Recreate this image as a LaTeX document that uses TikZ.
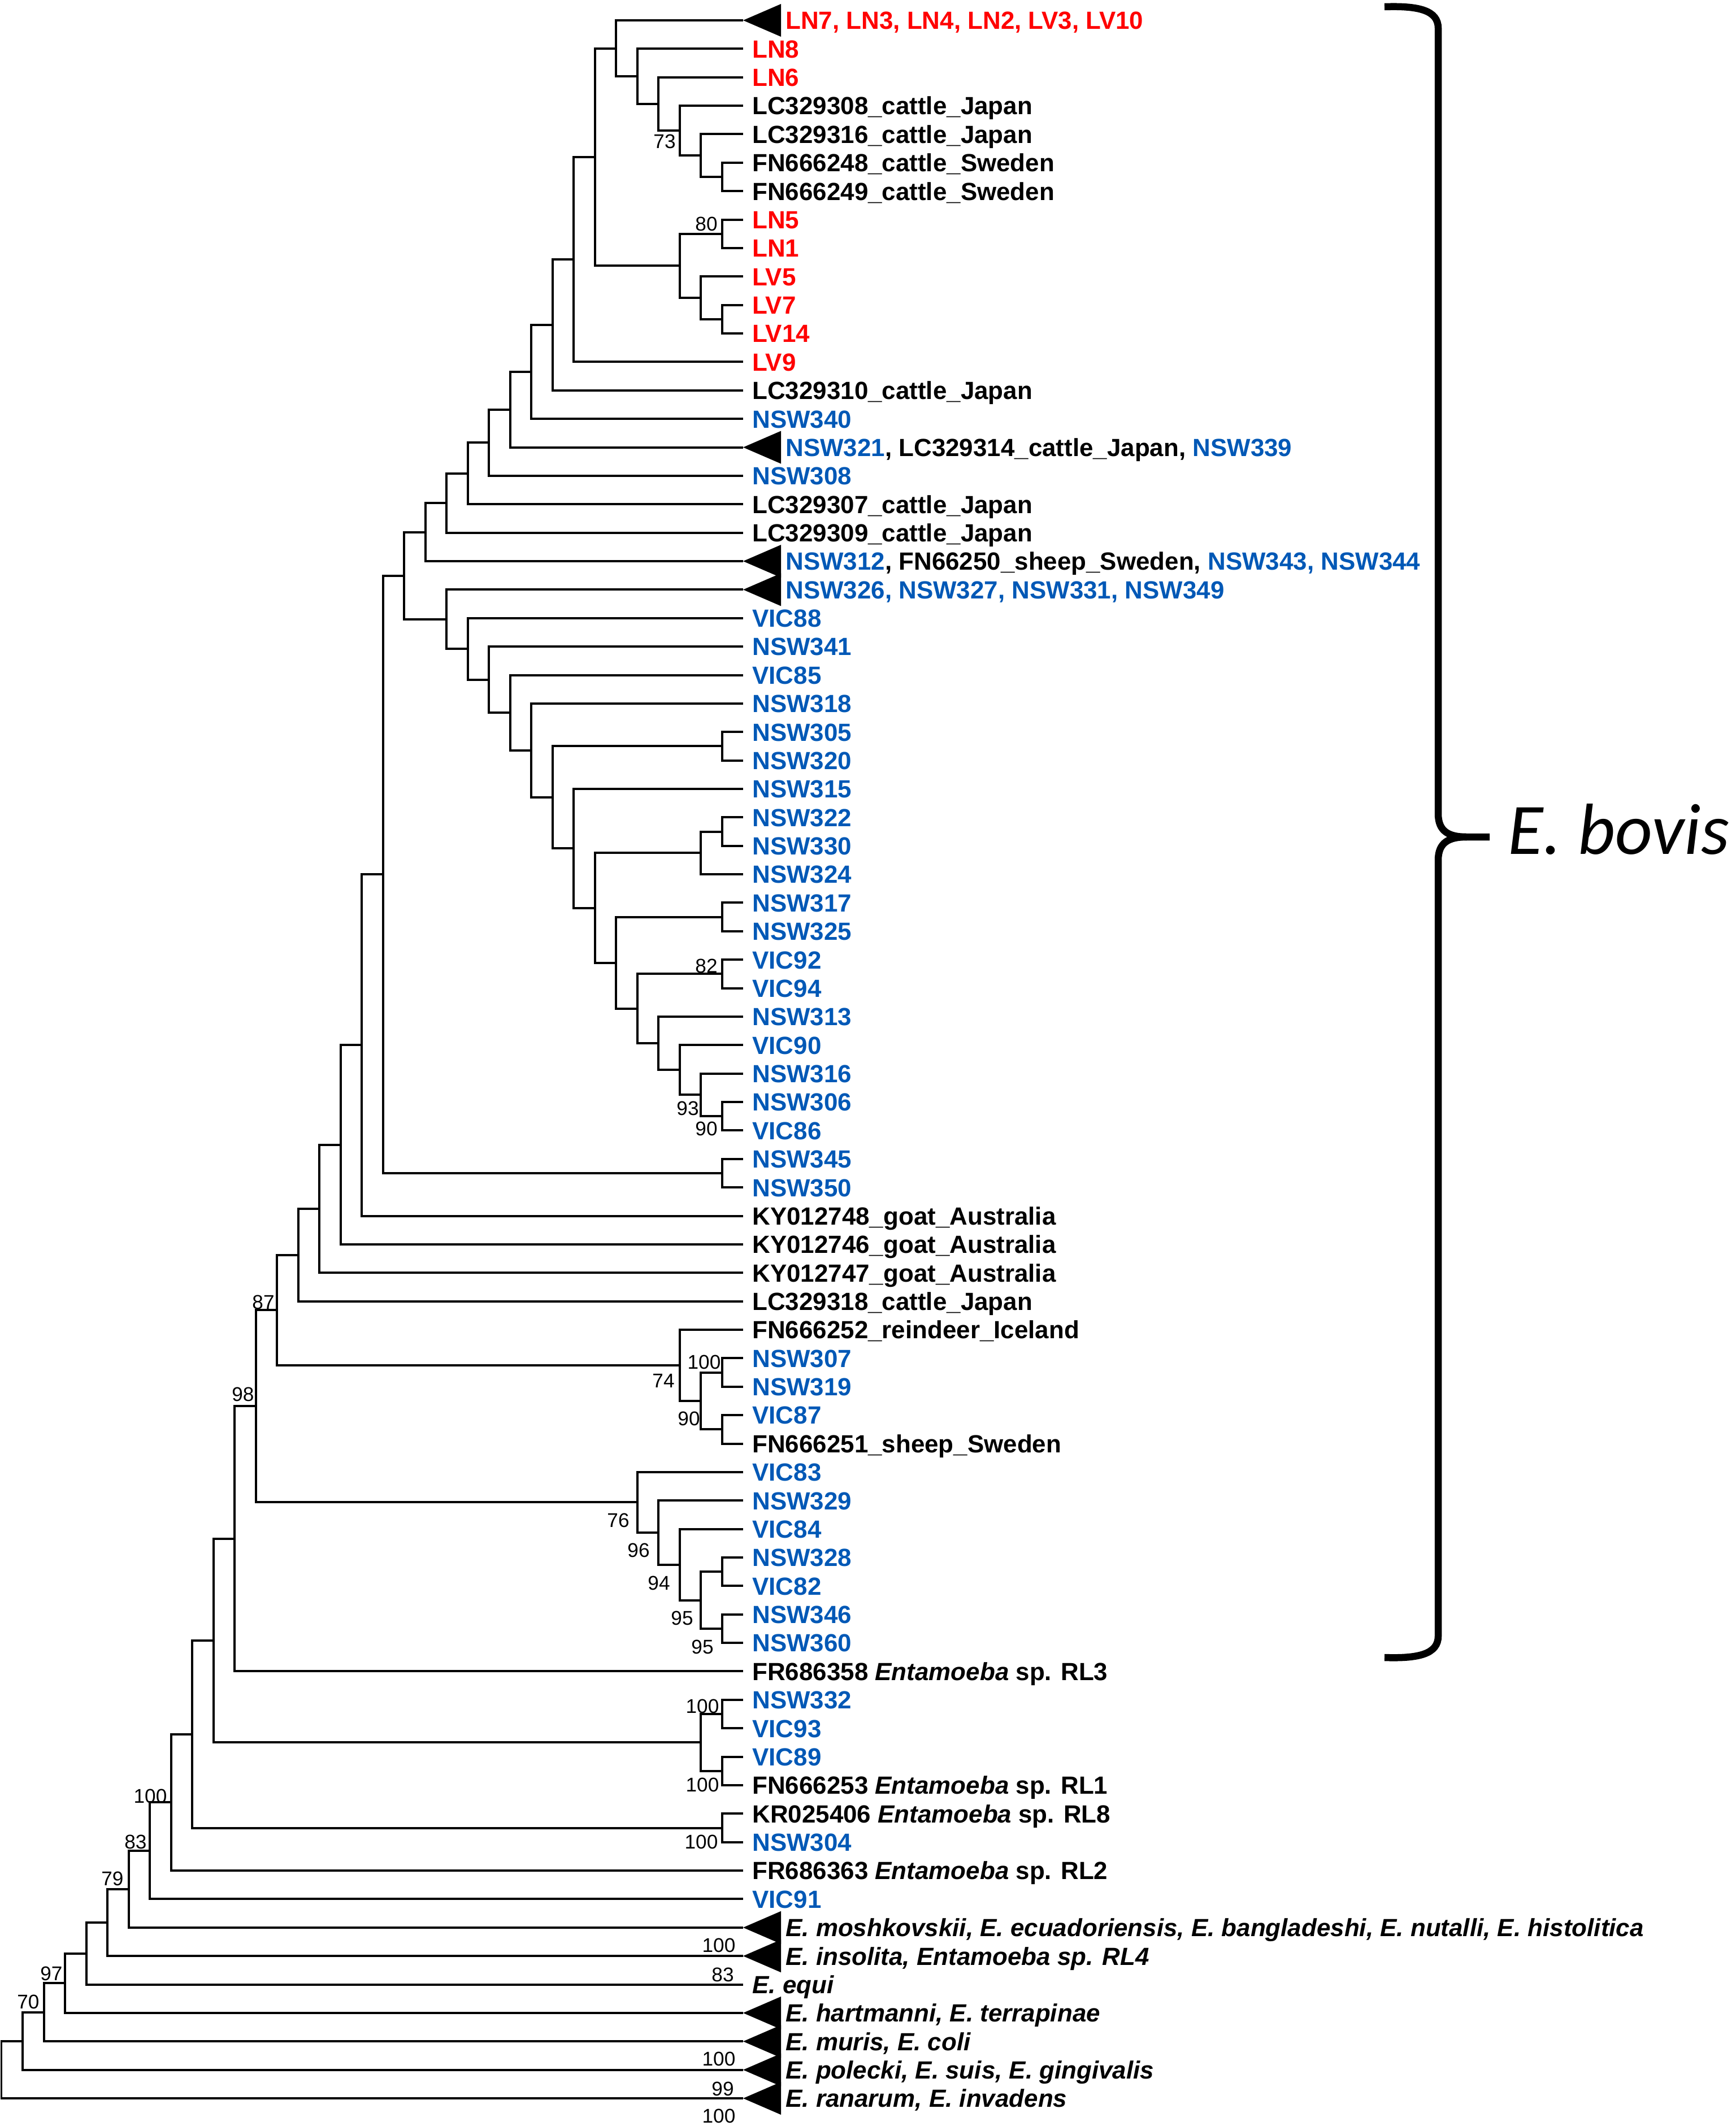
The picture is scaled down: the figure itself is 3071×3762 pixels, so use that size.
\documentclass[tikz,border=0pt]{standalone}
\usepackage{fontspec}
\setmainfont{Liberation Sans}
\newfontfamily\calibfont{Carlito}
\definecolor{tred}{RGB}{255,0,0}
\definecolor{tblue}{RGB}{0,88,182}
\newcommand\RY[1]{(36+(#1-1)*50.37)}
\newcommand\KX[1]{(1315-37.5*(#1))}
\newcommand\twokids[3]{\draw[br] (#1) |- (#2); \draw[br] (#1) |- (#3);}
\newcommand\intnode[3]{\coordinate (#1) at ({\KX{#2}},{\RY{#3}});}
\newcommand\clade[3]{\coordinate (tr#1) at (1315,{\RY{#1}});
  \fill (tr#1) -- ++(67,-29) -- ++(0,58) -- cycle;
  \node[trilbl,#2] (t#1) at (1382,{\RY{#1}}) {#3};}
\newcommand\lf[3]{\node[leaf,#2] (t#1) at (1315,{\RY{#1}}) {#3};}
\newcommand\bl[1]{\textcolor{tblue}{#1}}
\begin{document}
\begin{tikzpicture}[x=0.02cm,y=-0.02cm,
  br/.style={line width=0.08cm},
  leaf/.style={anchor=west,inner xsep=0.32cm,inner ysep=0pt,font=\bfseries\fontsize{25}{30}\selectfont,text height=18pt,text depth=0pt},
  trilbl/.style={leaf,inner xsep=0.16cm},
  rd/.style={text=tred},
  bu/.style={text=tblue},
  it/.style={font=\bfseries\itshape\fontsize{25}{30}\selectfont},
  bs/.style={inner sep=0pt,font=\fontsize{20}{24}\selectfont,text height=14.4pt,text depth=0pt},
  brace/.style={line width=0.25cm,line cap=butt}]
\useasboundingbox (0,0) rectangle (3071,3762);

% ---- leaves ----
\clade{1}{rd}{LN7, LN3, LN4, LN2, LV3, LV10}
\lf{2}{rd}{LN8}
\lf{3}{rd}{LN6}
\lf{4}{}{LC329308\_cattle\_Japan}
\lf{5}{}{LC329316\_cattle\_Japan}
\lf{6}{}{FN666248\_cattle\_Sweden}
\lf{7}{}{FN666249\_cattle\_Sweden}
\lf{8}{rd}{LN5}
\lf{9}{rd}{LN1}
\lf{10}{rd}{LV5}
\lf{11}{rd}{LV7}
\lf{12}{rd}{LV14}
\lf{13}{rd}{LV9}
\lf{14}{}{LC329310\_cattle\_Japan}
\lf{15}{bu}{NSW340}
\clade{16}{}{\bl{NSW321}, LC329314\_cattle\_Japan, \bl{NSW339}}
\lf{17}{bu}{NSW308}
\lf{18}{}{LC329307\_cattle\_Japan}
\lf{19}{}{LC329309\_cattle\_Japan}
\clade{20}{}{\bl{NSW312}, FN66250\_sheep\_Sweden, \bl{NSW343, NSW344}}
\clade{21}{bu}{NSW326, NSW327, NSW331, NSW349}
\lf{22}{bu}{VIC88}
\lf{23}{bu}{NSW341}
\lf{24}{bu}{VIC85}
\lf{25}{bu}{NSW318}
\lf{26}{bu}{NSW305}
\lf{27}{bu}{NSW320}
\lf{28}{bu}{NSW315}
\lf{29}{bu}{NSW322}
\lf{30}{bu}{NSW330}
\lf{31}{bu}{NSW324}
\lf{32}{bu}{NSW317}
\lf{33}{bu}{NSW325}
\lf{34}{bu}{VIC92}
\lf{35}{bu}{VIC94}
\lf{36}{bu}{NSW313}
\lf{37}{bu}{VIC90}
\lf{38}{bu}{NSW316}
\lf{39}{bu}{NSW306}
\lf{40}{bu}{VIC86}
\lf{41}{bu}{NSW345}
\lf{42}{bu}{NSW350}
\lf{43}{}{KY012748\_goat\_Australia}
\lf{44}{}{KY012746\_goat\_Australia}
\lf{45}{}{KY012747\_goat\_Australia}
\lf{46}{}{LC329318\_cattle\_Japan}
\lf{47}{}{FN666252\_reindeer\_Iceland}
\lf{48}{bu}{NSW307}
\lf{49}{bu}{NSW319}
\lf{50}{bu}{VIC87}
\lf{51}{}{FN666251\_sheep\_Sweden}
\lf{52}{bu}{VIC83}
\lf{53}{bu}{NSW329}
\lf{54}{bu}{VIC84}
\lf{55}{bu}{NSW328}
\lf{56}{bu}{VIC82}
\lf{57}{bu}{NSW346}
\lf{58}{bu}{NSW360}
\lf{59}{}{FR686358 \textit{Entamoeba} sp. RL3}
\lf{60}{bu}{NSW332}
\lf{61}{bu}{VIC93}
\lf{62}{bu}{VIC89}
\lf{63}{}{FN666253 \textit{Entamoeba} sp. RL1}
\lf{64}{}{KR025406 \textit{Entamoeba} sp. RL8}
\lf{65}{bu}{NSW304}
\lf{66}{}{FR686363 \textit{Entamoeba} sp. RL2}
\lf{67}{bu}{VIC91}
\clade{68}{it}{E. moshkovskii, E. ecuadoriensis, E. bangladeshi, E. nutalli, E. histolitica}
\clade{69}{it}{E. insolita, Entamoeba sp. RL4}
\lf{70}{it}{E. equi}
\clade{71}{it}{E. hartmanni, E. terrapinae}
\clade{72}{it}{E. muris, E. coli}
\clade{73}{it}{E. polecki, E. suis, E. gingivalis}
\clade{74}{it}{E. ranarum, E. invadens}

% ---- internal nodes ----
\intnode{F}{1}{6.5}
\intnode{E}{2}{5.75}
\intnode{D}{3}{4.875}
\intnode{C}{4}{3.9375}
\intnode{B}{5}{2.96875}
\intnode{A}{6}{1.984375}
\intnode{I}{1}{8.5}
\intnode{K}{1}{11.5}
\intnode{J}{2}{10.75}
\intnode{H}{3}{9.625}
\intnode{G}{7}{5.8046875}
\intnode{L}{8}{9.40234}
\intnode{M}{9}{11.70117}
\intnode{N}{10}{13.35059}
\intnode{O}{11}{14.67529}
\intnode{P}{12}{15.83765}
\intnode{Q}{13}{16.91882}
\intnode{R}{14}{17.95941}
\intnode{S}{15}{18.97971}
\intnode{BB}{1}{26.5}
\intnode{GG}{1}{29.5}
\intnode{EE}{2}{30.25}
\intnode{HH}{1}{32.5}
\intnode{JJ}{1}{34.5}
\intnode{NN}{1}{39.5}
\intnode{MM}{2}{38.75}
\intnode{LL}{3}{37.875}
\intnode{KK}{4}{36.9375}
\intnode{II}{5}{35.71875}
\intnode{FF}{6}{34.109375}
\intnode{DD}{7}{32.1796875}
\intnode{CC}{8}{30.08984}
\intnode{AA}{9}{28.29492}
\intnode{Z}{10}{26.64746}
\intnode{Y}{11}{25.32373}
\intnode{X}{12}{24.16187}
\intnode{W}{13}{23.08093}
\intnode{V}{14}{22.04047}
\intnode{T}{16}{20.51009}
\intnode{PQ}{1}{41.5}
\intnode{U}{17}{31.00504}
\intnode{n18}{18}{37.00252}
\intnode{n19}{19}{40.50126}
\intnode{n20}{20}{42.75063}
\intnode{n21}{21}{44.37532}
\intnode{RR}{1}{48.5}
\intnode{SS}{1}{50.5}
\intnode{QQ}{2}{49.5}
\intnode{PP}{3}{48.25}
\intnode{n22}{22}{46.31266}
\intnode{XX}{1}{55.5}
\intnode{YY}{1}{57.5}
\intnode{WW}{2}{56.5}
\intnode{VV}{3}{55.25}
\intnode{UU}{4}{54.125}
\intnode{TT}{5}{53.0625}
\intnode{n23}{23}{49.68758}
\intnode{n24}{24}{54.34379}
\intnode{AB}{1}{60.5}
\intnode{AC}{1}{62.5}
\intnode{ZZ}{2}{61.5}
\intnode{n25}{25}{57.9219}
\intnode{AD}{1}{64.5}
\intnode{n26}{26}{61.21095}
\intnode{n27}{27}{63.60547}
\intnode{n28}{28}{65.30274}
\intnode{n29}{29}{66.65137}
\intnode{n30}{30}{67.82568}
\intnode{n31}{31}{68.91284}
\intnode{n32}{32}{69.95642}
\intnode{n33}{33}{70.97821}
\intnode{n34}{34}{71.98911}
\intnode{n35}{35}{72.99455}

% ---- branches ----
\twokids{F}{t6.west}{t7.west}
\twokids{E}{t5.west}{F}
\twokids{D}{t4.west}{E}
\twokids{C}{t3.west}{D}
\twokids{B}{t2.west}{C}
\twokids{A}{tr1}{B}
\twokids{I}{t8.west}{t9.west}
\twokids{K}{t11.west}{t12.west}
\twokids{J}{t10.west}{K}
\twokids{H}{I}{J}
\twokids{G}{A}{H}
\twokids{L}{G}{t13.west}
\twokids{M}{L}{t14.west}
\twokids{N}{M}{t15.west}
\twokids{O}{N}{tr16}
\twokids{P}{O}{t17.west}
\twokids{Q}{P}{t18.west}
\twokids{R}{Q}{t19.west}
\twokids{S}{R}{tr20}
\twokids{BB}{t26.west}{t27.west}
\twokids{GG}{t29.west}{t30.west}
\twokids{EE}{GG}{t31.west}
\twokids{HH}{t32.west}{t33.west}
\twokids{JJ}{t34.west}{t35.west}
\twokids{NN}{t39.west}{t40.west}
\twokids{MM}{t38.west}{NN}
\twokids{LL}{t37.west}{MM}
\twokids{KK}{t36.west}{LL}
\twokids{II}{JJ}{KK}
\twokids{FF}{HH}{II}
\twokids{DD}{EE}{FF}
\twokids{CC}{t28.west}{DD}
\twokids{AA}{BB}{CC}
\twokids{Z}{t25.west}{AA}
\twokids{Y}{t24.west}{Z}
\twokids{X}{t23.west}{Y}
\twokids{W}{t22.west}{X}
\twokids{V}{tr21}{W}
\twokids{T}{S}{V}
\twokids{PQ}{t41.west}{t42.west}
\twokids{U}{T}{PQ}
\twokids{n18}{U}{t43.west}
\twokids{n19}{n18}{t44.west}
\twokids{n20}{n19}{t45.west}
\twokids{n21}{n20}{t46.west}
\twokids{RR}{t48.west}{t49.west}
\twokids{SS}{t50.west}{t51.west}
\twokids{QQ}{RR}{SS}
\twokids{PP}{t47.west}{QQ}
\twokids{n22}{n21}{PP}
\twokids{XX}{t55.west}{t56.west}
\twokids{YY}{t57.west}{t58.west}
\twokids{WW}{XX}{YY}
\twokids{VV}{t54.west}{WW}
\twokids{UU}{t53.west}{VV}
\twokids{TT}{t52.west}{UU}
\twokids{n23}{n22}{TT}
\twokids{n24}{n23}{t59.west}
\twokids{AB}{t60.west}{t61.west}
\twokids{AC}{t62.west}{t63.west}
\twokids{ZZ}{AB}{AC}
\twokids{n25}{n24}{ZZ}
\twokids{AD}{t64.west}{t65.west}
\twokids{n26}{n25}{AD}
\twokids{n27}{n26}{t66.west}
\twokids{n28}{n27}{t67.west}
\twokids{n29}{n28}{tr68}
\twokids{n30}{n29}{tr69}
\twokids{n31}{n30}{t70.west}
\twokids{n32}{n31}{tr71}
\twokids{n33}{n32}{tr72}
\twokids{n34}{n33}{tr73}
\twokids{n35}{n34}{tr74}

% ---- bootstrap values ----
\node[bs] (b1) at (1176,250) {73};
\node[bs] (b2) at (1250,396) {80};
\node[bs] (b3) at (1250,1709) {82};
\node[bs] (b4) at (1217,1961) {93};
\node[bs] (b5) at (1250,1997) {90};
\node[bs] (b6) at (466,2304) {87};
\node[bs] (b7) at (1246,2410) {100};
\node[bs] (b8) at (1174,2443) {74};
\node[bs] (b9) at (430,2467) {98};
\node[bs] (b10) at (1219,2510) {90};
\node[bs] (b11) at (1094,2690) {76};
\node[bs] (b12) at (1130,2743) {96};
\node[bs] (b13) at (1166,2801) {94};
\node[bs] (b14) at (1207,2863) {95};
\node[bs] (b15) at (1243,2914) {95};
\node[bs] (b16) at (1243,3019) {100};
\node[bs] (b17) at (1243,3158) {100};
\node[bs] (b18) at (266,3178) {100};
\node[bs] (b19) at (1241,3259) {100};
\node[bs] (b20) at (240,3259) {83};
\node[bs] (b21) at (199,3324) {79};
\node[bs] (b22) at (1272,3442) {100};
\node[bs] (b23) at (91,3492) {97};
\node[bs] (b24) at (1279,3494) {83};
\node[bs] (b25) at (50,3542) {70};
\node[bs] (b26) at (1272,3643) {100};
\node[bs] (b27) at (1279,3696) {99};
\node[bs] (b28) at (1272,3744) {100};

% ---- E. bovis bracket ----
\coordinate (bt) at (2450,12);
\coordinate (bb) at (2450,2933);
\coordinate (bcusp) at (2595,1481);
\coordinate (btip) at (2636,1481);
\draw[brace] (bt) .. controls (2510,10) and (2545,18) .. (2545,50) -- (2545,1440)
  .. controls (2545,1472) and (2565,1481) .. (bcusp) -- (btip);
\draw[brace] (bb) .. controls (2510,2935) and (2545,2927) .. (2545,2895) -- (2545,1522)
  .. controls (2545,1490) and (2565,1481) .. (bcusp);
\node[anchor=west,inner sep=0pt,font=\calibfont\itshape\fontsize{73}{80}\selectfont,text height=47pt,text depth=0pt] (ebovis) at (2668,1470) {E. bovis};
\end{tikzpicture}
\end{document}
